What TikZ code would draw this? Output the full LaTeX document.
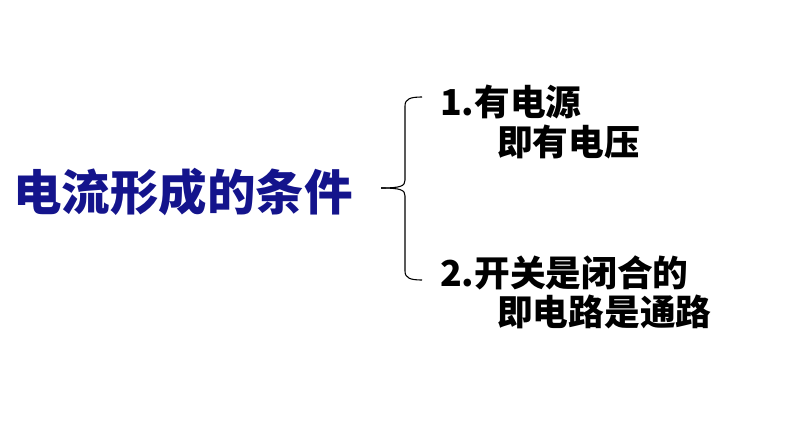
\documentclass[tikz,border=0pt]{standalone}
\usepackage{fontspec}
\setmainfont{Liberation Sans}
\newfontfamily\cjk{Noto Sans CJK SC}
\definecolor{titleblue}{RGB}{20,20,140}
\begin{document}
\begin{tikzpicture}[x=1pt,y=-1pt,
  titletext/.style={anchor=west,inner sep=0pt,font=\cjk\bfseries\fontsize{48.5}{52}\selectfont,text=titleblue},
  itemtext/.style={anchor=west,inner sep=0pt,font=\cjk\bfseries\fontsize{35.7}{40}\selectfont,text=black},
  bracestyle/.style={draw=black,line width=1.1pt}]
\useasboundingbox (0,0) rectangle (794,447);
\node[titletext] (t) at (13,192) {电流形成的条件};
\node[itemtext] (i1) at (440,102) {1.有电源};
\node[itemtext] (i1b) at (497,142) {即有电压};
\node[itemtext] (i2) at (440,273) {2.开关是闭合的};
\node[itemtext] (i2b) at (497,312) {即电路是通路};
\coordinate (btop) at (422,97);
\coordinate (bbot) at (422,280);
\coordinate (btip) at (381,188);
\draw[bracestyle] (btop) .. controls (410,97) and (405,99) .. (405,106) -- (405,180)
  .. controls (405,186) and (401,188) .. (btip);
\draw[bracestyle] (bbot) .. controls (410,280) and (405,278) .. (405,271) -- (405,196)
  .. controls (405,190) and (401,188) .. (btip);
\end{tikzpicture}
\end{document}
